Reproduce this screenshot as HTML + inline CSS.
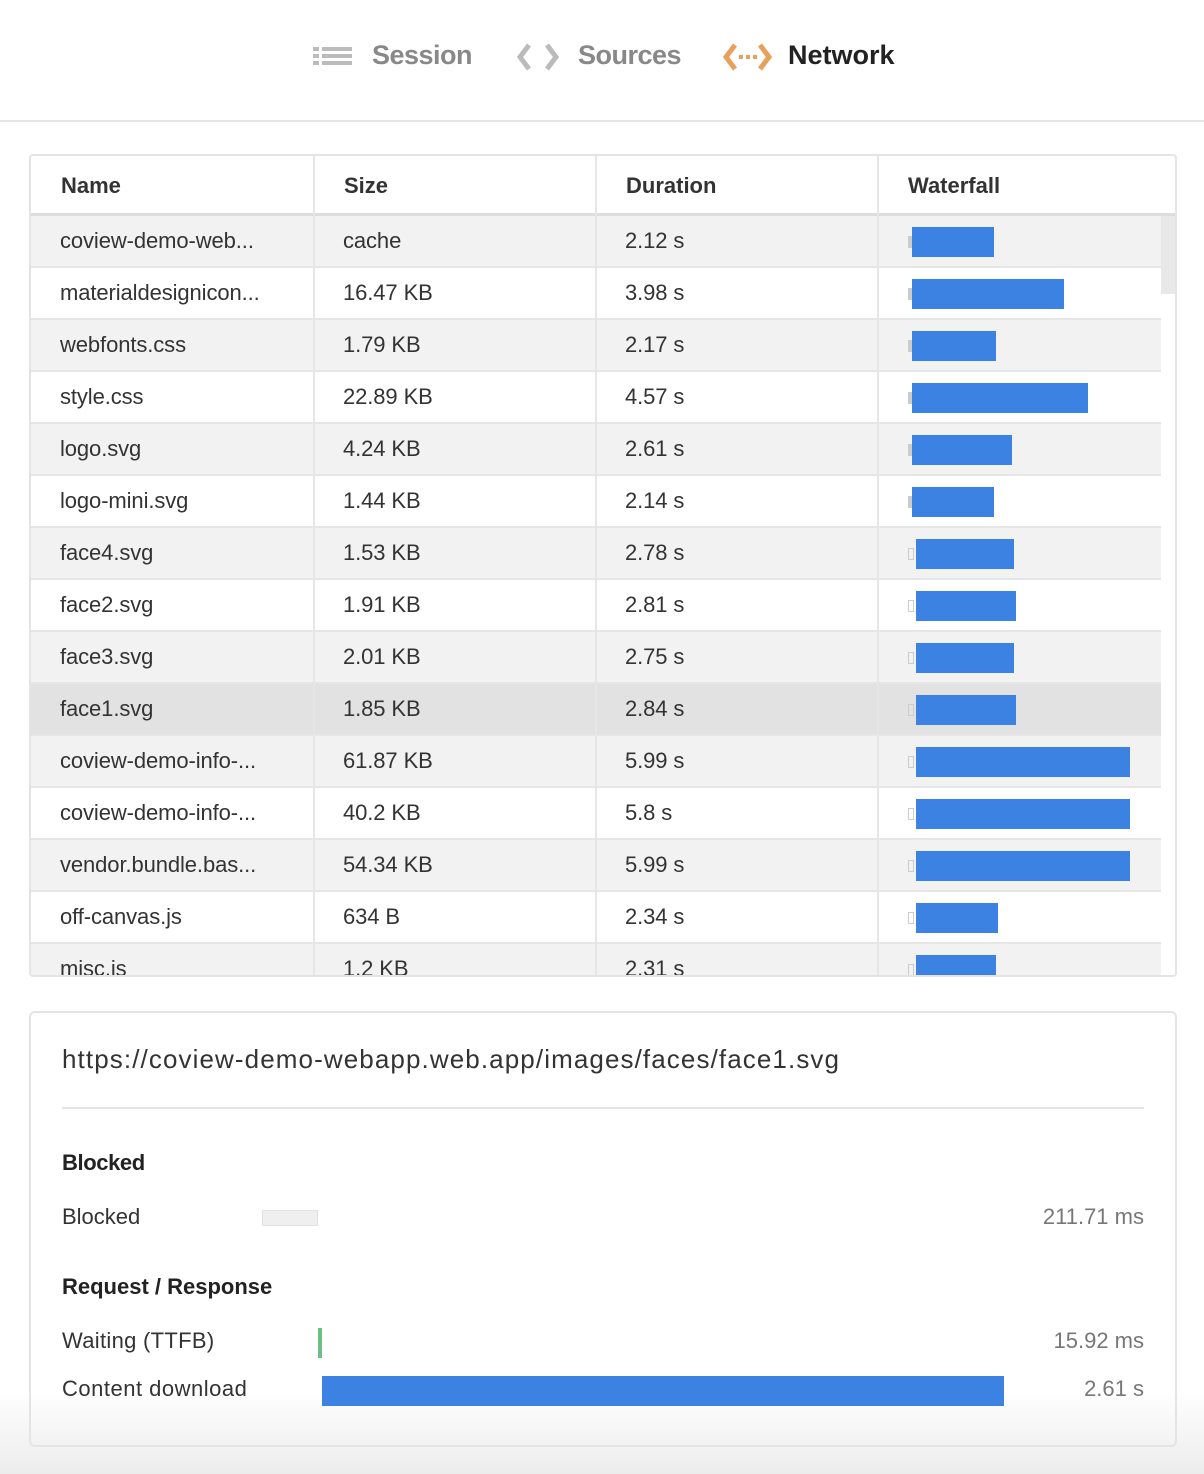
<!DOCTYPE html>
<html><head><meta charset="utf-8"><style>
*{margin:0;padding:0;box-sizing:border-box}
body{width:1204px;height:1474px;position:relative;overflow:hidden;font-family:"Liberation Sans",sans-serif;color:#333;background:linear-gradient(#fff 0,#fff 1390px,#ececec 1474px)}
.a{position:absolute;white-space:nowrap}
.nav{font-size:27px;font-weight:bold;top:40px;letter-spacing:-0.5px}
.tbl{position:absolute;left:29px;top:154px;width:1148px;height:823px;border:2px solid #e4e4e4;border-radius:4px;overflow:hidden;background:#fff}
.row{position:absolute;left:0;width:1130px;height:52px;border-bottom:2px solid #e6e6e6;font-size:22px;letter-spacing:-0.1px}
.row span{position:absolute;top:12px}
.vl{position:absolute;top:0;width:2px;height:823px;background:#e6e6e6}
.stub{position:absolute;width:4px;height:12px;top:20px;background:#ccc}
.bar{position:absolute;height:30px;top:11px;background:#3c82e3}
</style></head><body>
<svg class="a" style="left:313px;top:45px" width="40" height="24"><g fill="#bbb"><rect x="0" y="2" width="6" height="4"/><rect x="9" y="2" width="30" height="4"/><rect x="0" y="9" width="6" height="4"/><rect x="9" y="9" width="30" height="4"/><rect x="0" y="16" width="6" height="4"/><rect x="9" y="16" width="30" height="4"/></g></svg>
<div class="a nav" style="left:372px;color:#888">Session</div>
<svg class="a" style="left:516px;top:42px" width="44" height="30"><g fill="none" stroke="#bbb" stroke-width="5"><path d="M13 3 L4 15 L13 27"/><path d="M31 3 L40 15 L31 27"/></g></svg>
<div class="a nav" style="left:578px;color:#888">Sources</div>
<svg class="a" style="left:723px;top:42px" width="50" height="30"><g fill="none" stroke="#e8a05a" stroke-width="5"><path d="M12 3 L3 15 L12 27"/><path d="M37 3 L46 15 L37 27"/></g><g fill="#e8a05a"><rect x="16" y="13" width="4" height="4"/><rect x="23" y="13" width="4" height="4"/><rect x="30" y="13" width="4" height="4"/></g></svg>
<div class="a nav" style="left:788px;color:#222;letter-spacing:0">Network</div>
<div class="a" style="left:0;top:120px;width:1204px;height:2px;background:#e6e6e6"></div>

<div class="tbl">
<div class="a" style="left:0;top:0;width:1148px;height:60px;border-bottom:3px solid #ddd;font-size:22px;font-weight:bold;color:#333">
<span class="a" style="left:30px;top:17px">Name</span><span class="a" style="left:313px;top:17px">Size</span><span class="a" style="left:595px;top:17px">Duration</span><span class="a" style="left:877px;top:17px">Waterfall</span></div>
<div id="rows"></div>
<div class="a" style="left:1130px;top:60px;width:16px;height:763px;background:#fff"></div>
<div class="a" style="left:1130px;top:60px;width:16px;height:78px;background:#e8e8e8"></div>
<div class="vl" style="left:282px"></div><div class="vl" style="left:564px"></div><div class="vl" style="left:846px"></div>
</div>

<div class="a" style="left:29px;top:1011px;width:1148px;height:436px;border:2px solid #e4e4e4;border-radius:6px;background:transparent"></div>
<div class="a" style="left:62px;top:1044px;font-size:26px;color:#333;letter-spacing:1.1px">https://coview-demo-webapp.web.app/images/faces/face1.svg</div>
<div class="a" style="left:62px;top:1107px;width:1082px;height:2px;background:#e4e4e4"></div>
<div class="a" style="left:62px;top:1150px;font-size:22px;font-weight:bold;color:#222;letter-spacing:-0.4px">Blocked</div>
<div class="a" style="left:62px;top:1204px;font-size:22px;color:#333">Blocked</div>
<div class="a" style="left:262px;top:1210px;width:56px;height:16px;background:#efefef;border:1px solid #e2e2e2"></div>
<div class="a" style="right:60px;top:1204px;font-size:22px;color:#777">211.71 ms</div>
<div class="a" style="left:62px;top:1274px;font-size:22px;font-weight:bold;color:#222;letter-spacing:0">Request / Response</div>
<div class="a" style="left:62px;top:1328px;font-size:22px;color:#333;letter-spacing:0.3px">Waiting (TTFB)</div>
<div class="a" style="left:318px;top:1328px;width:4px;height:30px;background:#6cc084"></div>
<div class="a" style="right:60px;top:1328px;font-size:22px;color:#777">15.92 ms</div>
<div class="a" style="left:62px;top:1376px;font-size:22px;color:#333;letter-spacing:0.5px">Content download</div>
<div class="a" style="left:322px;top:1376px;width:682px;height:30px;background:#3c82e3"></div>
<div class="a" style="right:60px;top:1376px;font-size:22px;color:#777">2.61 s</div>

<script>
var d=[["coview-demo-web...","cache","2.12 s",912,994],["materialdesignicon...","16.47 KB","3.98 s",912,1064],["webfonts.css","1.79 KB","2.17 s",912,996],["style.css","22.89 KB","4.57 s",912,1088],["logo.svg","4.24 KB","2.61 s",912,1012],["logo-mini.svg","1.44 KB","2.14 s",912,994],["face4.svg","1.53 KB","2.78 s",916,1014],["face2.svg","1.91 KB","2.81 s",916,1016],["face3.svg","2.01 KB","2.75 s",916,1014],["face1.svg","1.85 KB","2.84 s",916,1016],["coview-demo-info-...","61.87 KB","5.99 s",916,1130],["coview-demo-info-...","40.2 KB","5.8 s",916,1130],["vendor.bundle.bas...","54.34 KB","5.99 s",916,1130],["off-canvas.js","634 B","2.34 s",916,998],["misc.js","1.2 KB","2.31 s",916,996]];
var h="";d.forEach(function(r,i){var bg=i==9?"#e2e2e2":(i%2==0?"#f2f2f2":"#fff");var ox=31;
h+='<div class="row" style="top:'+(60+52*i)+'px;background:'+bg+'"><span style="left:29px">'+r[0]+'</span><span style="left:312px">'+r[1]+'</span><span style="left:594px">'+r[2]+'</span><div class="stub" style="left:'+(877)+'px;'+(r[3]==916?'background:none;border:1px solid #ccc;width:6px':'')+'"></div><div class="bar" style="left:'+(r[3]-ox)+'px;width:'+(r[4]-r[3])+'px"></div></div>';});
document.getElementById("rows").innerHTML=h;
</script>
</body></html>
